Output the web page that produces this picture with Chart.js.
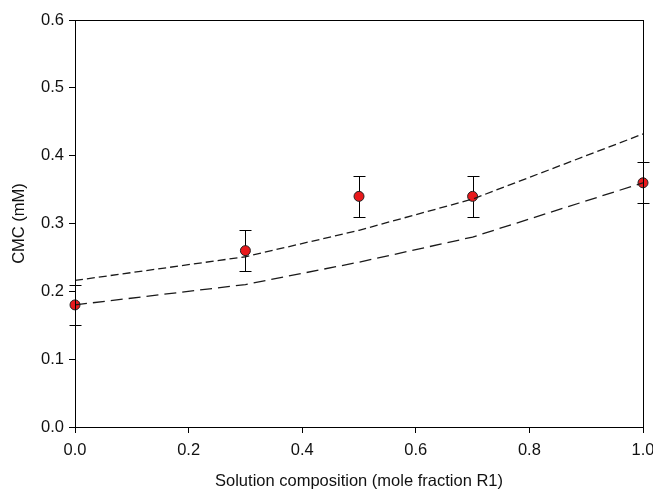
<!DOCTYPE html>
<html>
<head>
<meta charset="utf-8">
<script src="https://cdn.jsdelivr.net/npm/chart.js@4"></script>
<style>
  html, body { margin: 0; padding: 0; background: #fff; }
  #wrap { width: 653px; height: 492px; }
</style>
</head>
<body>
<div id="wrap"><canvas id="chart" width="653" height="492"></canvas></div>
<script>
// Measured critical micelle concentration vs. mole fraction of R1
const composition = [0.0, 0.3, 0.5, 0.7, 1.0];
const cmcMeasured = [0.18, 0.26, 0.34, 0.34, 0.36];
const cmcError = [0.03, 0.03, 0.03, 0.03, 0.03];

// Model curves (two mixing predictions)
const modelX = [0.0, 0.3, 0.5, 0.7, 1.0];
const modelUpper = [0.216, 0.251, 0.290, 0.336, 0.432];
const modelLower = [0.180, 0.210, 0.243, 0.280, 0.360];

// Axis ticks
const xTicks = [0.0, 0.2, 0.4, 0.6, 0.8, 1.0];
const yTicks = [0.0, 0.1, 0.2, 0.3, 0.4, 0.5, 0.6];

const toXY = (xs, ys) => xs.map((x, i) => ({ x: x, y: ys[i] }));

const FONT = "'Liberation Sans', Arial, sans-serif";
const FSIZE = 16.5;

// Vertical error bars with caps, drawn under the markers
const errorBars = {
  id: 'errorBars',
  beforeDatasetsDraw(chart) {
    const { ctx, scales: { x, y } } = chart;
    ctx.save();
    ctx.strokeStyle = '#000';
    ctx.lineWidth = 1;
    composition.forEach((cx, i) => {
      const px = Math.round(x.getPixelForValue(cx)) + 0.5;
      const top = Math.round(y.getPixelForValue(cmcMeasured[i] + cmcError[i])) + 0.5;
      const bot = Math.round(y.getPixelForValue(cmcMeasured[i] - cmcError[i])) + 0.5;
      ctx.beginPath();
      ctx.moveTo(px, top); ctx.lineTo(px, bot);
      ctx.moveTo(px - 6, top); ctx.lineTo(px + 6, top);
      ctx.moveTo(px - 6, bot); ctx.lineTo(px + 6, bot);
      ctx.stroke();
    });
    ctx.restore();
  }
};

// Closed frame around the plot area
const frame = {
  id: 'frame',
  afterDraw(chart) {
    const { ctx, chartArea: a } = chart;
    ctx.save();
    ctx.strokeStyle = '#000';
    ctx.lineWidth = 1;
    ctx.strokeRect(Math.round(a.left) + 0.5, Math.round(a.top) + 0.5,
                   Math.round(a.right - a.left), Math.round(a.bottom - a.top));
    ctx.restore();
  }
};

new Chart(document.getElementById('chart'), {
  type: 'scatter',
  data: {
    datasets: [
      {
        label: 'Measured',
        data: toXY(composition, cmcMeasured),
        showLine: false,
        pointRadius: 5,
        pointHoverRadius: 5,
        pointBackgroundColor: '#e8191c',
        pointBorderColor: '#222',
        pointBorderWidth: 1,
        clip: false,
        order: 2
      },
      {
        label: 'Model A',
        data: toXY(modelX, modelUpper),
        showLine: true,
        borderColor: '#1a1a1a',
        borderWidth: 1.3,
        borderDash: [8, 4],
        pointRadius: 0,
        fill: false,
        tension: 0,
        order: 1
      },
      {
        label: 'Model B',
        data: toXY(modelX, modelLower),
        showLine: true,
        borderColor: '#1a1a1a',
        borderWidth: 1.3,
        borderDash: [12, 6],
        pointRadius: 0,
        fill: false,
        tension: 0,
        order: 1
      }
    ]
  },
  options: {
    responsive: false,
    animation: false,
    devicePixelRatio: 1,
    layout: { padding: { top: 20, right: 10, bottom: 0, left: 0 } },
    plugins: { legend: { display: false }, tooltip: { enabled: false } },
    scales: {
      x: {
        type: 'linear',
        min: 0, max: 1,
        afterFit(s) { s.height = 65; s.paddingLeft = 0; s.paddingRight = 0; },
        afterBuildTicks(s) { s.ticks = xTicks.map(v => ({ value: v })); },
        ticks: {
          color: '#111',
          font: { family: FONT, size: FSIZE },
          padding: 8,
          maxRotation: 0,
          callback: v => Number(v).toFixed(1)
        },
        grid: { drawOnChartArea: false, drawTicks: true, tickLength: 6, color: '#000' },
        border: { display: true, color: '#000', width: 1 },
        title: {
          display: true,
          text: 'Solution composition (mole fraction R1)',
          color: '#111',
          font: { family: FONT, size: FSIZE },
          padding: { top: 0, bottom: 1 }
        }
      },
      y: {
        type: 'linear',
        min: 0, max: 0.6,
        afterFit(s) { s.width = 75; s.paddingTop = 0; s.paddingBottom = 0; },
        afterBuildTicks(s) { s.ticks = yTicks.map(v => ({ value: v })); },
        ticks: {
          color: '#111',
          font: { family: FONT, size: FSIZE },
          padding: 5,
          callback: v => Number(v).toFixed(1)
        },
        grid: { drawOnChartArea: false, drawTicks: true, tickLength: 6, color: '#000' },
        border: { display: true, color: '#000', width: 1 },
        title: {
          display: true,
          text: 'CMC (mM)',
          color: '#111',
          font: { family: FONT, size: FSIZE },
          padding: { top: 10, bottom: 0 }
        }
      }
    }
  },
  plugins: [errorBars, frame]
});
</script>
</body>
</html>
